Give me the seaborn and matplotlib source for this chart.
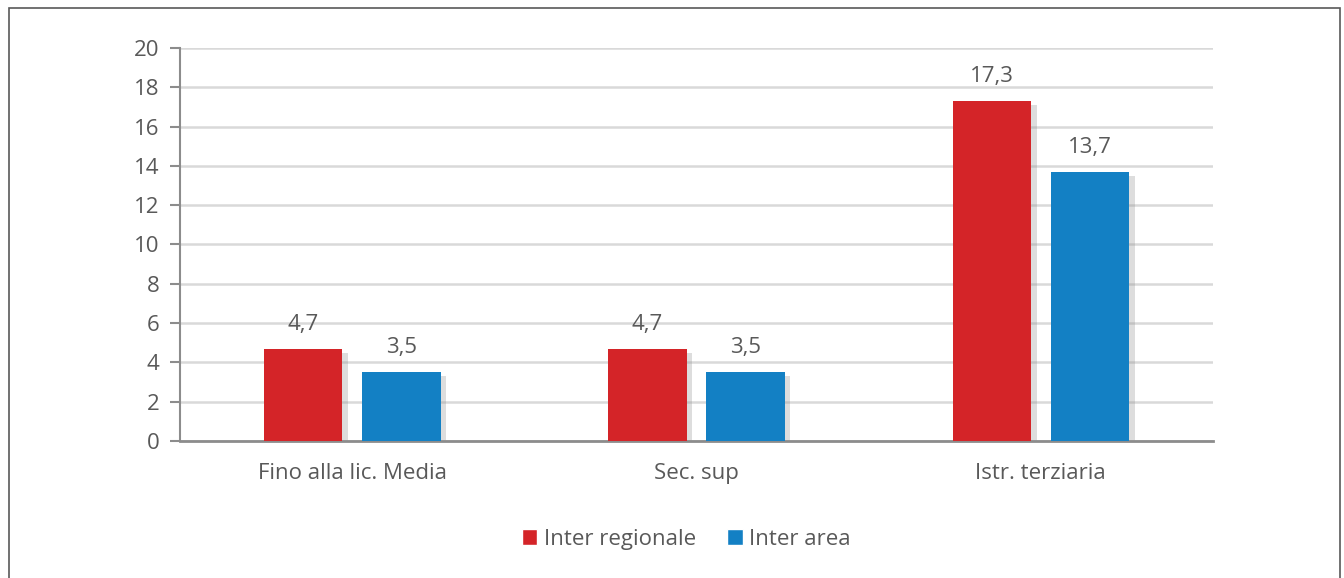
import numpy as np
import pandas as pd
import matplotlib
matplotlib.use('Agg')
import matplotlib.pyplot as plt
import matplotlib.patheffects as pe
from matplotlib.patches import Rectangle
import seaborn as sns

categories = ['Fino alla lic. Media', 'Sec. sup', 'Istr. terziaria']
series = ['Inter regionale', 'Inter area']
interRegionale = [4.7, 4.7, 17.3]
interArea = [3.5, 3.5, 13.7]
yTicks = [0, 2, 4, 6, 8, 10, 12, 14, 16, 18, 20]

colors = ['#d42428', '#1380c4']
textGray = '#595959'

df = pd.DataFrame({
  'Categoria': categories * 2,
  'Serie': [series[0]] * 3 + [series[1]] * 3,
  'Valore': interRegionale + interArea,
})

sns.set_style('white')
plt.rcParams['font.family'] = ['Open Sans', 'DejaVu Sans']

fig = plt.figure(figsize=(13.44, 5.78), dpi=100)
ax = fig.add_axes([0.134, 0.237, 0.7685, 0.68])

sns.barplot(data=df, x='Categoria', y='Valore', hue='Serie', palette=colors, saturation=1,
            width=0.57, gap=0.2, ax=ax, legend=True, zorder=3)

shadow = [pe.SimplePatchShadow(offset=(4, -3), shadow_rgbFace='#909090', alpha=0.3), pe.Normal()]
for container in ax.containers:
  for bar in container:
    bar.set_path_effects(shadow)
    bar.set_edgecolor('none')
  labels = ['{:.1f}'.format(b.get_height()).replace('.', ',') for b in container]
  ax.bar_label(container, labels=labels, padding=10, fontsize=16, color=textGray)

ax.set_ylim(0, 20)
ax.set_xlim(-0.5, 2.5)
ax.set_yticks(yTicks)
ax.set_yticklabels([str(t) for t in yTicks])
ax.yaxis.grid(True, color='#d9d9d9', linewidth=1.8, zorder=0)
ax.set_axisbelow(True)
ax.set_xlabel('')
ax.set_ylabel('')
for s in ['top', 'right']:
  ax.spines[s].set_visible(False)
ax.spines['left'].set_color('#8c8c8c')
ax.spines['left'].set_linewidth(1.5)
ax.spines['bottom'].set_color('#8c8c8c')
ax.spines['bottom'].set_linewidth(2)
ax.tick_params(axis='y', which='major', left=True, length=7, width=1.5, color='#8c8c8c',
               labelsize=16, labelcolor=textGray, pad=8)
ax.tick_params(axis='x', bottom=False, labelsize=16, labelcolor=textGray, pad=12)

handles, lbls = ax.get_legend_handles_labels()
ax.legend(handles, lbls, loc='center', bbox_to_anchor=(0.49, -0.25), ncol=2, frameon=False,
          fontsize=16, labelcolor=textGray, handlelength=0.7, handleheight=0.7,
          handletextpad=0.3, columnspacing=1.4)

fig.patches.append(Rectangle((0.0067, -0.01), 0.99, 0.996, transform=fig.transFigure,
                             fill=False, edgecolor='#595959', linewidth=1.2))

fig.savefig('out.png', dpi=100)
